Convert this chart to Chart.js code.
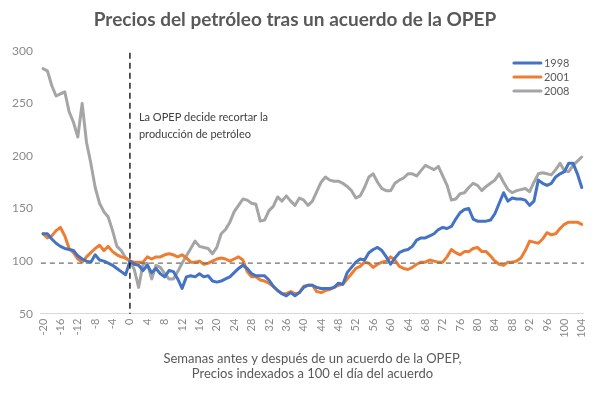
<!DOCTYPE html>
<html>
<head>
<meta charset="utf-8">
<script src="https://cdn.jsdelivr.net/npm/chart.js@4.4.1/dist/chart.umd.min.js"></script>
<style>
  html, body { margin: 0; padding: 0; background: #fff; }
  #wrap { width: 600px; height: 397px; }
</style>
</head>
<body>
<div id="wrap"><canvas id="myChart"></canvas></div>
<script>
// semanas antes / después del acuerdo
const weeks = [-20,-19,-18,-17,-16,-15,-14,-13,-12,-11,-10,-9,-8,-7,-6,-5,-4,-3,-2,-1,
  0,1,2,3,4,5,6,7,8,9,10,11,12,13,14,15,16,17,18,19,20,21,22,23,24,25,26,27,28,29,
  30,31,32,33,34,35,36,37,38,39,40,41,42,43,44,45,46,47,48,49,50,51,52,53,54,55,56,57,58,59,
  60,61,62,63,64,65,66,67,68,69,70,71,72,73,74,75,76,77,78,79,80,81,82,83,84,85,86,87,88,89,
  90,91,92,93,94,95,96,97,98,99,100,101,102,103,104];

const serie1998 = [126,126,121,117,114,112,111,110,105,102,100,99,106,101,100,98,96,93,90,87,
  100,97,96,91,96,89,93,88,85,91,90,83,74,85,86,85,88,85,86,81,80,81,83,85,89,93,96,93,88,86,
  86,86,82,76,72,69,67,70,67,70,75,77,77,75,74,74,74,75,79,78,89,94,99,102,101,108,111,113,110,104,
  97,103,108,110,111,114,120,122,122,124,126,130,132,131,133,140,146,149,150,140,138,138,138,139,145,155,165,157,160,159,
  159,158,153,157,177,174,172,174,180,183,185,193,193,183,170];

const serie2001 = [126,122,124,129,132,124,112,108,102,99,104,108,112,115,110,114,109,106,104,103,
  100,99,99,99,104,102,104,104,106,107,106,104,106,103,99,99,100,97,98,100,102,103,102,100,102,104,101,90,85,85,
  82,81,79,76,72,69,69,71,69,70,76,77,77,71,70,72,73,75,77,78,83,88,93,95,99,98,94,97,99,100,
  104,101,95,93,92,94,97,99,99,101,100,99,99,104,111,108,106,109,109,112,113,109,109,105,100,97,96,99,99,100,
  103,110,119,118,117,121,127,125,126,131,135,137,137,137,135];

const serie2008 = [283,281,267,257,259,261,242,232,218,250,213,193,170,155,147,142,129,114,110,103,
  100,92,75,97,98,83,96,94,88,83,83,90,98,105,112,119,114,113,112,107,113,126,130,137,147,153,159,158,155,154,
  138,139,148,152,161,157,162,157,153,160,158,153,157,166,175,180,177,176,176,174,171,167,160,162,170,180,183,175,169,167,
  167,174,177,179,183,183,181,186,191,189,187,190,181,172,158,159,164,165,170,174,172,167,171,174,177,183,175,168,165,167,
  168,169,166,175,183,184,183,182,187,193,186,185,191,195,199];

const yTicks = [50,100,150,200,250,300];
const acuerdoSemana = 0;
const nivelReferencia = 98;
const notaOpep = ['La OPEP decide recortar la', 'producción de petróleo'];
const ejeX = ['Semanas antes y después de un acuerdo de la OPEP,', 'Precios indexados a 100 el día del acuerdo'];

const FONT = 'Lato, "Open Sans", sans-serif';

// líneas punteadas + nota + leyenda
const refLines = {
  id: 'refLines',
  afterDatasetsDraw(chart) {
    const { ctx, chartArea: { top, bottom, left, right }, scales: { x, y } } = chart;
    ctx.save();
    // horizontal
    const yy = y.getPixelForValue(nivelReferencia);
    ctx.strokeStyle = '#6f6f6f';
    ctx.lineWidth = 1.3;
    ctx.setLineDash([5, 4]);
    ctx.beginPath();
    ctx.moveTo(left, yy);
    ctx.lineTo(right, yy);
    ctx.stroke();
    // vertical
    const xx = x.getPixelForValue(weeks.indexOf(acuerdoSemana));
    ctx.strokeStyle = '#000';
    ctx.lineWidth = 1.3;
    ctx.setLineDash([6, 4]);
    ctx.beginPath();
    ctx.moveTo(xx, top + 2);
    ctx.lineTo(xx, bottom);
    ctx.stroke();
    ctx.setLineDash([]);
    // nota
    ctx.fillStyle = '#404040';
    ctx.font = '11px ' + FONT;
    ctx.textAlign = 'left';
    ctx.textBaseline = 'middle';
    ctx.fillText(notaOpep[0], xx + 9, 117);
    ctx.fillText(notaOpep[1], xx + 9, 134);
    // leyenda
    chart.data.datasets.forEach((ds, i) => {
      const ly = 63 + i * 14;
      ctx.strokeStyle = ds.borderColor;
      ctx.lineWidth = 3;
      ctx.lineCap = 'round';
      ctx.beginPath();
      ctx.moveTo(right - 70, ly);
      ctx.lineTo(right - 43, ly);
      ctx.stroke();
      ctx.fillStyle = '#595959';
      ctx.fillText(ds.label, right - 40, ly);
    });
    ctx.restore();
  }
};

const config = {
  type: 'line',
  data: {
    labels: weeks,
    datasets: [
      { label: '1998', data: serie1998, borderColor: '#4472C4' },
      { label: '2001', data: serie2001, borderColor: '#ED7D31' },
      { label: '2008', data: serie2008, borderColor: '#A5A5A5' }
    ]
  },
  options: {
    responsive: true,
    maintainAspectRatio: false,
    animation: false,
    elements: {
      point: { radius: 0 },
      line: { borderWidth: 3, tension: 0, borderJoinStyle: 'round', borderCapStyle: 'round' }
    },
    layout: { padding: { left: 4, right: 14, top: 0, bottom: 11 } },
    plugins: {
      legend: { display: false },
      tooltip: { enabled: false },
      title: {
        display: true,
        text: 'Precios del petróleo tras un acuerdo de la OPEP',
        color: '#595959',
        font: { family: FONT, size: 19, weight: 'bold' },
        padding: { top: 8, bottom: 20 }
      }
    },
    scales: {
      x: {
        type: 'category',
        offset: true,
        grid: { display: false, drawTicks: false },
        border: { display: true, color: '#d9d9d9', width: 1 },
        ticks: {
          autoSkip: false,
          maxRotation: 90,
          minRotation: 90,
          padding: 5,
          color: '#8a8a8a',
          font: { family: FONT, size: 11 },
          callback(val, i) { return weeks[i] % 4 === 0 ? String(weeks[i]) : null; }
        },
        title: {
          display: true,
          text: ejeX,
          color: '#595959',
          font: { family: FONT, size: 13 },
          padding: { top: 8 }
        }
      },
      y: {
        min: 50,
        max: 300,
        grid: { display: false, drawTicks: false },
        border: { display: false },
        afterBuildTicks(axis) { axis.ticks = yTicks.map(v => ({ value: v })); },
        ticks: {
          padding: 8,
          color: '#8a8a8a',
          font: { family: FONT, size: 12 }
        }
      }
    }
  },
  plugins: [refLines]
};

const myChart = new Chart(document.getElementById('myChart'), config);
</script>
</body>
</html>
